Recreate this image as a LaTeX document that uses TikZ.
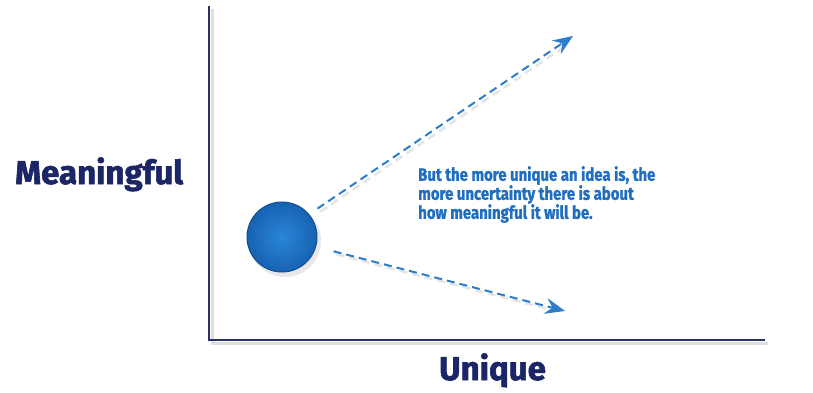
\documentclass[tikz,border=0pt]{standalone}
\usepackage{fontspec}
\usetikzlibrary{arrows.meta}
\newfontfamily\condfont[FakeStretch=1.0, BoldFeatures={FakeBold=1.8}]{Fira Sans}
\newfontfamily\bodyfont[FakeStretch=0.83, BoldFeatures={FakeBold=1.2}]{Fira Sans}
\definecolor{navy}{HTML}{1C2566}
\definecolor{axisnavy}{HTML}{2A3063}
\definecolor{txtblue}{HTML}{1F6EC0}
\definecolor{arrblue}{HTML}{2C7DCB}
\definecolor{balllight}{HTML}{2A86D8}
\definecolor{balldark}{HTML}{1762B2}
\tikzset{
  axisline/.style={draw=axisnavy, line width=2.4pt},
  axisshadow/.style={draw=gray!25, line width=3pt},
  dasharrow/.style={draw=arrblue, line width=2pt, dash pattern=on 8pt off 5pt,
    -{Stealth[length=20pt,width=16pt,inset=7pt]}},
  arrshadow/.style={draw=gray!20, line width=2.5pt, dash pattern=on 8pt off 5pt},
  bigtitle/.style={text=navy, inner sep=0pt, font=\condfont\bfseries\fontsize{33}{33}\selectfont},
  bodytext/.style={text=txtblue, inner sep=0pt, align=left,
    font=\bodyfont\bfseries\fontsize{18}{19}\selectfont}
}
\begin{document}
\begin{tikzpicture}[x=1pt,y=-1pt]
\useasboundingbox[fill=white] (0,0) rectangle (813,392);
% coordinates
\coordinate (origin) at (209,340);
\coordinate (ytop) at (209,6);
\coordinate (xend) at (765,340);
\coordinate (tipA) at (573,36);
\coordinate (tipB) at (565,311);
% axis shadows
\draw[axisshadow] ([shift={(3,3)}]ytop) -- ([shift={(3,3)}]origin) -- ([shift={(3,3)}]xend);
% axes
\draw[axisline] (ytop) -- (origin) -- (xend);
% ball shadow
\fill[gray!30, opacity=0.6] (285,241) circle (36);
% ball
\node[circle, minimum size=70pt, inner sep=0pt, draw=balldark!80!black, line width=1pt,
  inner color=balllight, outer color=balldark] (ball) at (282,237) {};
% arrow shadows
\draw[arrshadow, shorten <=10pt, shorten >=14pt] ([shift={(3,3)}]ball.40) -- ([shift={(3,3)}]tipA);
\draw[arrshadow, shorten <=18pt, shorten >=14pt] ([shift={(3,3)}]ball.-16) -- ([shift={(3,3)}]tipB);
% arrows
\draw[dasharrow, shorten <=10pt] (ball.40) -- (tipA);
\draw[dasharrow, shorten <=18pt] (ball.-16) -- (tipB);
% labels
\node[bigtitle, anchor=base west] (ylab) at (15,184) {Meaningful};
\node[bigtitle, anchor=base west] (xlab) at (439,380) {Unique};
\node[bodytext, anchor=north west] (note) at (418,166) {But the more unique an idea is, the\\more uncertainty there is about\\how meaningful it will be.};
\end{tikzpicture}
\end{document}
